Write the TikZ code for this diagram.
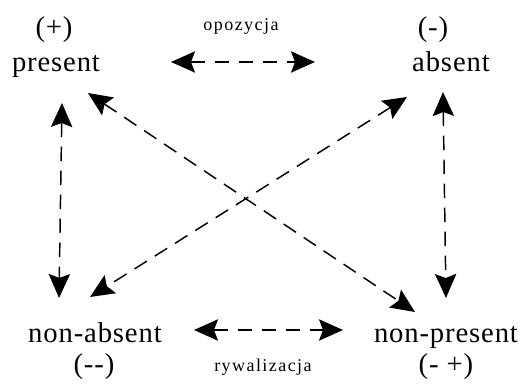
\documentclass[tikz,border=0pt]{standalone}
\usepackage{fontspec}
\setmainfont{Liberation Serif}
\usetikzlibrary{arrows.meta}
\tikzset{
  bighead/.tip={Stealth[length=18pt,width=16pt,inset=3pt]}
}
\begin{document}
\begin{tikzpicture}[x=0.75pt,y=-0.75pt,
  big/.style={inner sep=0pt,font=\fontsize{21.5}{24}\selectfont\addfontfeature{LetterSpace=3}},
  small/.style={inner sep=0pt,font=\fontsize{13.5}{15}\selectfont\addfontfeature{LetterSpace=8}},
  link/.style={line width=1.1pt,dash pattern=on 11pt off 7pt,bighead-bighead}]
\useasboundingbox (0,0) rectangle (532,384);
% labels
\node[big] (pp) at (54,30) {(+)};
\node[big,anchor=base] (present) at (56,72) {present};
\node[big] (mm) at (433,30) {(-)};
\node[big,anchor=base] (absent) at (451,72) {absent};
\node[small] (opo) at (241,26) {opozycja};
\node[big,anchor=base] (nonabsent) at (95,343) {non-absent};
\node[big] (dd) at (94,367) {({-}{-})};
\node[big,anchor=base] (nonpresent) at (446,343) {non-present};
\node[big] (dp) at (446,367) {(- +)};
\node[small] (ryw) at (263,367) {rywalizacja};
% arrow end points
\coordinate (t1) at (171,62); \coordinate (t2) at (315,62);
\coordinate (b1) at (194,330); \coordinate (b2) at (343,330);
\coordinate (l1) at (62,103); \coordinate (l2) at (59,298);
\coordinate (r1) at (443,92); \coordinate (r2) at (446,298);
\coordinate (d1) at (88,93); \coordinate (d2) at (415,312);
\coordinate (e1) at (407,97); \coordinate (e2) at (90,297);
\draw[link] (t1) -- (t2);
\draw[link] (b1) -- (b2);
\draw[link] (l1) -- (l2);
\draw[link] (r1) -- (r2);
\draw[link] (d1) -- (d2);
\draw[link] (e1) -- (e2);
\end{tikzpicture}
\end{document}
